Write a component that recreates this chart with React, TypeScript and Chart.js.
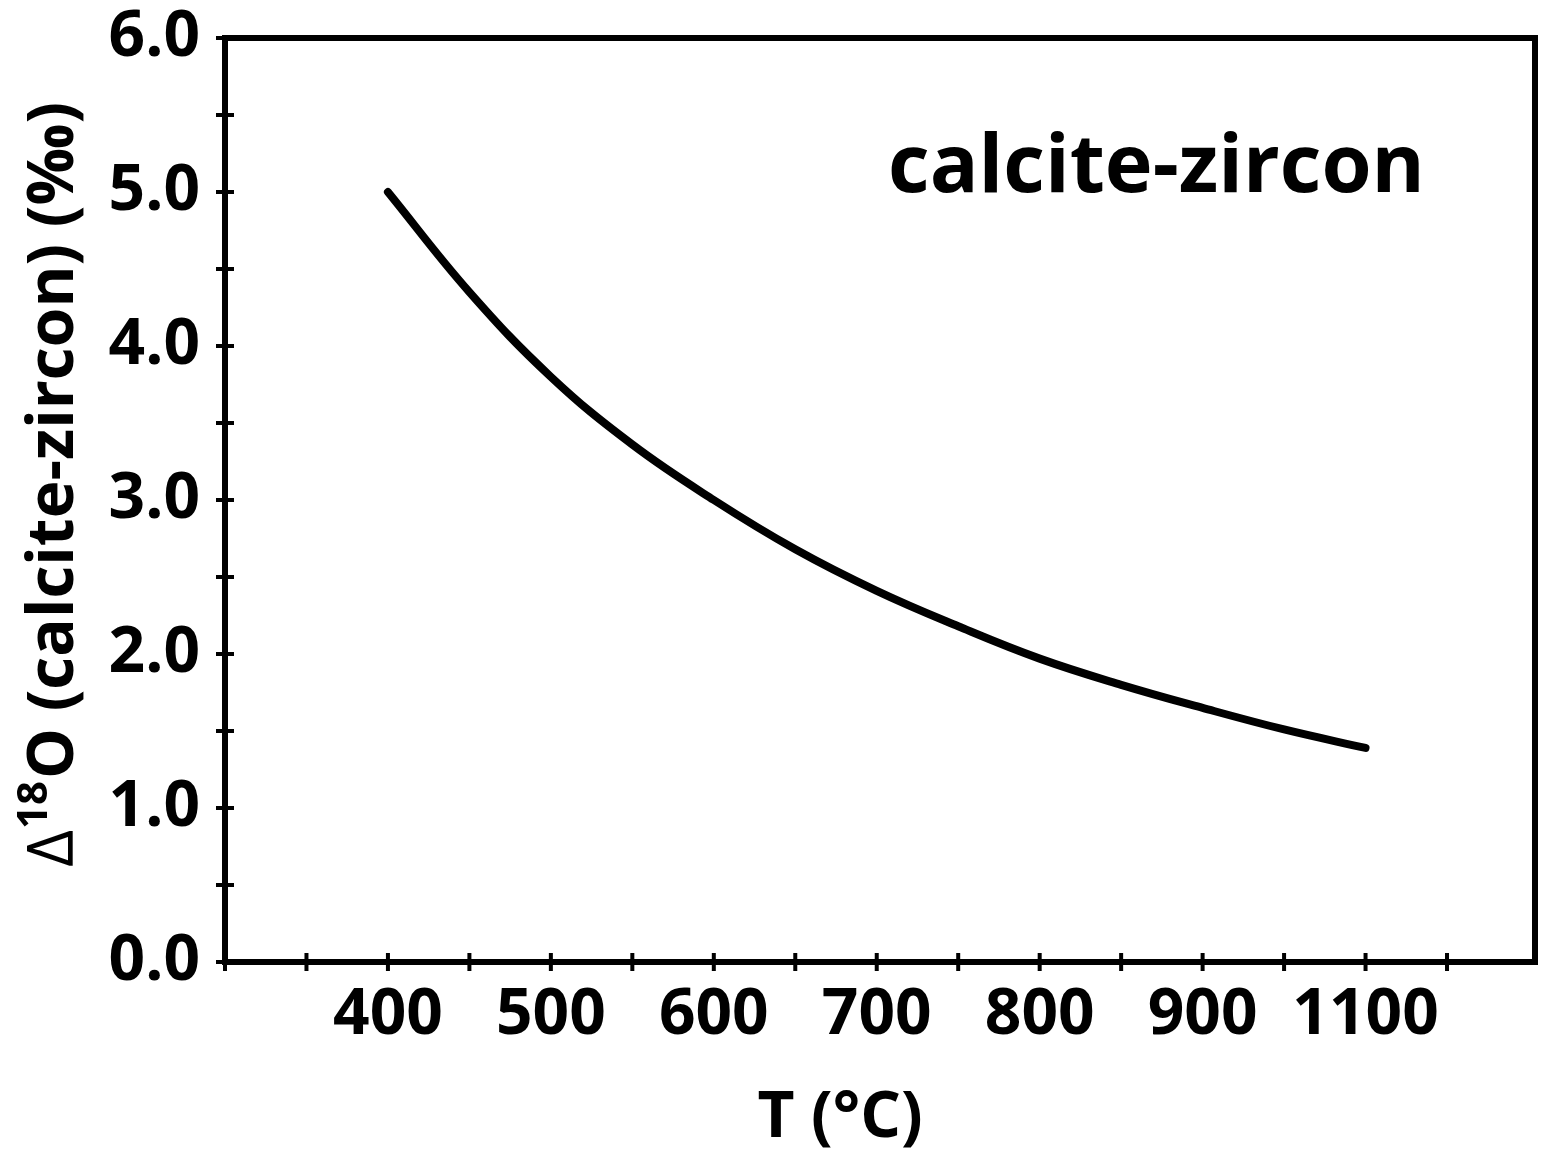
import React, { useEffect, useRef } from 'react';
import { Chart, registerables } from 'chart.js';

Chart.register(...registerables);

// ---- data ----
const temperatures = [400, 450, 500, 550, 600, 650, 700, 750, 800, 850, 900, 950, 1000];
const fractionation = [5.0, 4.35, 3.8, 3.36, 3.0, 2.68, 2.41, 2.18, 1.97, 1.8, 1.65, 1.51, 1.39];

const xTickValues = [400, 500, 600, 700, 800, 900, 1000];
const xTickLabels = ['400', '500', '600', '700', '800', '900', '1100'];
const yTickValues = [0, 1, 2, 3, 4, 5, 6];
const yTickLabels = ['0.0', '1.0', '2.0', '3.0', '4.0', '5.0', '6.0'];

const xAxisTitle = 'T (°C)';
const yTitleDelta = 'Δ';
const yTitleSup = '18';
const yTitleMain = 'O (calcite-zircon) (‰)';
const panelLabel = 'calcite-zircon';

const FONT = '"Open Sans", "DejaVu Sans", sans-serif';

const decorPlugin = {
  id: 'decor',
  afterDatasetsDraw(chart: any) {
    const { ctx, chartArea: a, scales } = chart;
    ctx.save();
    // frame
    ctx.strokeStyle = '#000';
    ctx.lineWidth = 6;
    ctx.lineJoin = 'miter';
    ctx.strokeRect(a.left, a.top, a.right - a.left, a.bottom - a.top);
    // crossing ticks
    ctx.lineWidth = 4;
    ctx.beginPath();
    for (const t of scales.x.ticks) {
      const px = scales.x.getPixelForValue(t.value);
      ctx.moveTo(px, a.bottom - 9);
      ctx.lineTo(px, a.bottom + 9);
    }
    for (const t of scales.y.ticks) {
      const py = scales.y.getPixelForValue(t.value);
      ctx.moveTo(a.left - 9, py);
      ctx.lineTo(a.left + 9, py);
    }
    ctx.stroke();

    ctx.fillStyle = '#000';
    // panel label
    ctx.textAlign = 'left';
    ctx.textBaseline = 'alphabetic';
    ctx.font = `700 81px ${FONT}`;
    ctx.fillText(panelLabel, a.left + 663, a.top + 154);

    // x axis title
    ctx.textAlign = 'center';
    ctx.font = `700 64px ${FONT}`;
    ctx.fillText(xAxisTitle, 840, 1137);

    // y axis title (rotated, mixed fonts)
    ctx.save();
    ctx.translate(73, 867);
    ctx.rotate(-Math.PI / 2);
    ctx.textAlign = 'left';
    ctx.font = `400 64px ${FONT}`;
    ctx.fillText(yTitleDelta, 0, 0);
    let x = ctx.measureText(yTitleDelta).width;
    ctx.font = `700 42px ${FONT}`;
    ctx.fillText(yTitleSup, x + 1, -26);
    x += ctx.measureText(yTitleSup).width + 3;
    ctx.font = `700 64px ${FONT}`;
    ctx.fillText(yTitleMain, x, 0);
    ctx.restore();

    ctx.restore();
  },
};

export default function App() {
  const canvasRef = useRef<HTMLCanvasElement | null>(null);

  useEffect(() => {
    const canvas = canvasRef.current;
    if (!canvas) return;
    const tickFont = { family: FONT, size: 64, weight: 'bold' as const };
    const chart = new Chart(canvas, {
      type: 'line',
      data: {
        datasets: [
          {
            data: temperatures.map((t, i) => ({ x: t, y: fractionation[i] })),
            borderColor: '#000',
            borderWidth: 8,
            borderCapStyle: 'round',
            borderJoinStyle: 'round',
            pointRadius: 0,
            tension: 0.4,
            fill: false,
          },
        ],
      },
      options: {
        animation: false,
        responsive: false,
        events: [],
        layout: { padding: { top: 38, right: 8, left: 0, bottom: 0 } },
        plugins: {
          legend: { display: false },
          tooltip: { enabled: false },
          title: { display: false },
        },
        scales: {
          x: {
            type: 'linear',
            min: 300,
            max: 1104,
            afterBuildTicks: (s: any) => {
              s.ticks = s.ticks.filter((t: any) => t.value % 50 === 0);
            },
            afterFit: (s: any) => {
              s.height = 198;
              s.paddingLeft = 0;
              s.paddingRight = 0;
            },
            grid: { display: false, drawTicks: false },
            border: { display: false },
            ticks: {
              stepSize: 50,
              autoSkip: false,
              maxRotation: 0,
              padding: 15,
              color: '#000',
              font: tickFont,
              callback: (v: any) => {
                const i = xTickValues.indexOf(Number(v));
                return i >= 0 ? xTickLabels[i] : '';
              },
            },
          },
          y: {
            type: 'linear',
            min: 0,
            max: 6,
            afterFit: (s: any) => {
              s.width = 225;
              s.paddingTop = 0;
              s.paddingBottom = 0;
            },
            grid: { display: false, drawTicks: false },
            border: { display: false },
            ticks: {
              stepSize: 0.5,
              autoSkip: false,
              padding: 25,
              color: '#000',
              font: tickFont,
              callback: (v: any) => {
                const i = yTickValues.indexOf(Number(v));
                return i >= 0 ? yTickLabels[i] : '';
              },
            },
          },
        },
      },
      plugins: [decorPlugin],
    });
    return () => chart.destroy();
  }, []);

  return (
    <div style={{ position: 'absolute', left: 0, top: 0, width: 1543, height: 1160, background: '#fff' }}>
      <canvas ref={canvasRef} width={1543} height={1160} style={{ display: 'block' }} />
    </div>
  );
}
